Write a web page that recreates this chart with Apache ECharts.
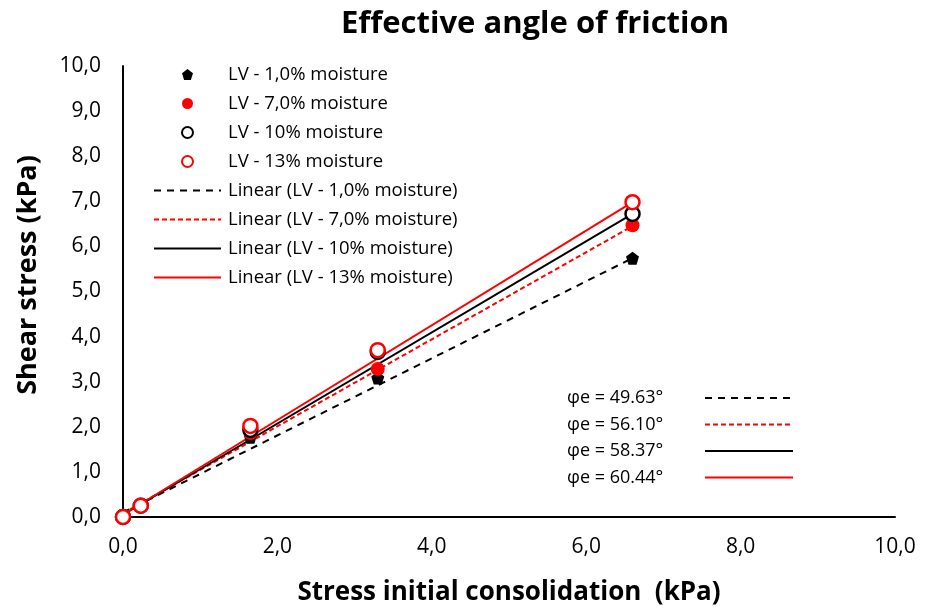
<!DOCTYPE html>
<html>
<head>
<meta charset="utf-8">
<script src="https://cdn.jsdelivr.net/npm/echarts@6/dist/echarts.min.js"></script>
<style>
  html, body { margin: 0; padding: 0; background: #fff; }
  #chart { width: 925px; height: 612px; }
</style>
</head>
<body>
<div id="chart"></div>
<script>
// stress of initial consolidation (kPa)
const stress = [0, 0.23, 1.65, 3.3, 6.6]
// shear stress (kPa) per moisture
const lv1 = [0, 0.25, 1.77, 3.08, 5.74]
const lv7 = [0, 0.25, 1.86, 3.28, 6.47]
const lv10 = [0, 0.25, 1.93, 3.66, 6.72]
const lv13 = [0, 0.25, 2.02, 3.70, 6.98]
// linear trend lines, y at start and end
const trendX = [0, 6.6]
const trend1 = [0.1, 5.74]
const trend7 = [0.08, 6.45]
const trend10 = [0.05, 6.72]
const trend13 = [0.05, 6.98]
const seriesNames = ['LV - 1,0% moisture', 'LV - 7,0% moisture', 'LV - 10% moisture', 'LV - 13% moisture']
const angles = ['φe = 49.63°', 'φe = 56.10°', 'φe = 58.37°', 'φe = 60.44°']

const font = "'Open Sans', sans-serif"
const pts = (ys) => stress.map((x, i) => [x, ys[i]])
const line = (ys) => trendX.map((x, i) => [x, ys[i]])
const fmt = v => v.toFixed(1).replace('.', ',')

const chart = echarts.init(document.getElementById('chart'))

const blackDash = [7, 6]
const redDash = [5, 3]

function trend(name, ys, color, type) {
  return {
    name: 'Linear (' + name + ')',
    type: 'line',
    data: line(ys),
    symbol: 'none',
    lineStyle: { color: color, width: 2, type: type },
    itemStyle: { color: color },
    z: 2
  }
}

// annotation block bottom right + y axis title
const angleColors = ['#000', '#ff0000', '#000', '#ff0000']
const angleDash = [blackDash, redDash, null, null]
const graphics = [{
  type: 'text', x: 28, y: 275, rotation: Math.PI / 2,
  style: {
    text: 'Shear stress (kPa)', font: 'bold 27px ' + font, fill: '#000',
    textAlign: 'center', textVerticalAlign: 'middle'
  }
}]
angles.forEach((a, i) => {
  const y = 398 + i * 26.5
  graphics.push({
    type: 'text', x: 567, y: y,
    style: { text: a, font: '18px ' + font, fill: '#000', textVerticalAlign: 'middle' }
  })
  graphics.push({
    type: 'line',
    shape: { x1: 705, y1: y, x2: 793, y2: y },
    style: { stroke: angleColors[i], lineWidth: 2, lineDash: angleDash[i] }
  })
})

const hideSym = { opacity: 0 }

chart.setOption({
  animation: false,
  textStyle: { fontFamily: font },
  title: {
    text: 'Effective angle of friction',
    left: 530, top: 4, textAlign: 'center',
    textStyle: { fontSize: 31, fontWeight: 'bold', color: '#000', fontFamily: font }
  },
  grid: { left: 123, right: 30, top: 66, bottom: 95 },
  legend: {
    orient: 'vertical',
    left: 148, top: 60,
    itemWidth: 67, itemHeight: 11, itemGap: 10,
    textStyle: { fontSize: 18.5, color: '#000', fontFamily: font, padding: [0, 0, 0, 2] },
    data: [
      { name: seriesNames[0] },
      { name: seriesNames[1] },
      { name: seriesNames[2] },
      { name: seriesNames[3] },
      { name: 'Linear (' + seriesNames[0] + ')', itemStyle: hideSym },
      { name: 'Linear (' + seriesNames[1] + ')', itemStyle: hideSym },
      { name: 'Linear (' + seriesNames[2] + ')', itemStyle: hideSym },
      { name: 'Linear (' + seriesNames[3] + ')', itemStyle: hideSym }
    ]
  },
  xAxis: {
    type: 'value', min: 0, max: 10, interval: 2,
    name: 'Stress initial consolidation  (kPa)',
    nameLocation: 'middle', nameGap: 63,
    nameTextStyle: { fontSize: 26, fontWeight: 'bold', color: '#000', fontFamily: font },
    axisLine: { lineStyle: { color: '#000', width: 2 } },
    axisTick: { show: false },
    splitLine: { show: false },
    axisLabel: { fontSize: 21, color: '#000', margin: 20, formatter: fmt }
  },
  yAxis: {
    type: 'value', min: 0, max: 10, interval: 1,
    axisLine: { show: true, lineStyle: { color: '#000', width: 2 } },
    axisTick: { show: false },
    splitLine: { show: false },
    axisLabel: { fontSize: 21, color: '#000', margin: 22, formatter: fmt }
  },
  graphic: graphics,
  series: [
    trend(seriesNames[0], trend1, '#000', blackDash),
    trend(seriesNames[1], trend7, '#ff0000', redDash),
    trend(seriesNames[2], trend10, '#000', 'solid'),
    trend(seriesNames[3], trend13, '#ff0000', 'solid'),
    {
      name: seriesNames[0], type: 'scatter', data: pts(lv1),
      symbol: 'path://M50,0 L100,38 L81,100 L19,100 L0,38 Z', symbolSize: 13,
      itemStyle: { color: '#000', opacity: 1 }, clip: false, z: 3
    },
    {
      name: seriesNames[1], type: 'scatter', data: pts(lv7),
      symbol: 'circle', symbolSize: 14,
      itemStyle: { color: '#ff0000', opacity: 1 }, clip: false, z: 4
    },
    {
      name: seriesNames[2], type: 'scatter', data: pts(lv10),
      symbol: 'circle', symbolSize: 14,
      itemStyle: { color: '#fff', borderColor: '#000', borderWidth: 2.5, opacity: 1 }, clip: false, z: 5
    },
    {
      name: seriesNames[3], type: 'scatter', data: pts(lv13),
      symbol: 'circle', symbolSize: 14,
      itemStyle: { color: '#fff', borderColor: '#ff0000', borderWidth: 2.5, opacity: 1 }, clip: false, z: 6
    }
  ]
})
</script>
</body>
</html>
